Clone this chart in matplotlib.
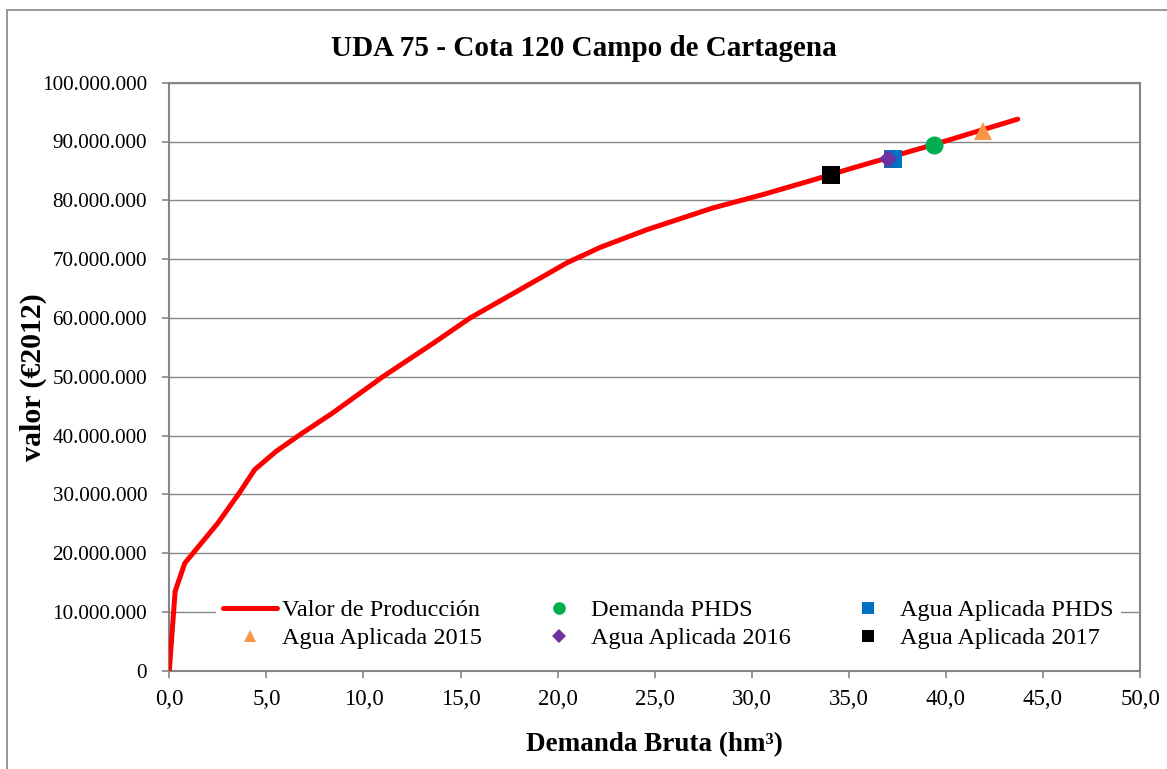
"""
Curva de valor de producción - UDA 75 Cota 120 Campo de Cartagena
"""

import matplotlib
matplotlib.use("Agg")
import matplotlib.pyplot as plt
import matplotlib.ticker as mtick
from matplotlib.patches import Rectangle

# ─── Datos ────────────────────────────────────────────────────────────────────

# Curva valor de producción (hm³, €2012)
demanda_hm3 = [0.0, 0.3, 0.8, 1.3, 2.5, 3.6, 4.4, 5.5, 6.8, 8.4, 11.0, 13.6,
               15.5, 17.9, 20.5, 22.2, 24.6, 28.0, 30.6, 33.2, 35.1, 39.4, 43.7]
valor_eur = [0, 13.5e6, 18.3e6, 20.3e6, 25.1e6, 30.2e6, 34.2e6, 37.3e6, 40.3e6,
             43.8e6, 50.0e6, 55.7e6, 60.0e6, 64.5e6, 69.4e6, 72.0e6, 75.0e6,
             78.7e6, 81.0e6, 83.5e6, 85.4e6, 89.5e6, 93.8e6]

# Puntos singulares
puntos_nombres = ["Demanda PHDS", "Agua Aplicada PHDS", "Agua Aplicada 2015",
                  "Agua Aplicada 2016", "Agua Aplicada 2017"]
puntos_x = [39.4, 37.3, 41.9, 37.0, 34.1]
puntos_y = [89.4e6, 87.1e6, 91.8e6, 87.0e6, 84.3e6]

titulo = "UDA 75 - Cota 120 Campo de Cartagena"
x_ticks = [0, 5, 10, 15, 20, 25, 30, 35, 40, 45, 50]
y_ticks = [0, 10e6, 20e6, 30e6, 40e6, 50e6, 60e6, 70e6, 80e6, 90e6, 100e6]

# ─── Estilo ───────────────────────────────────────────────────────────────────

plt.rcParams["font.family"] = ["Liberation Serif", "DejaVu Serif"]
GRIS = "#868686"

estilos = {
    "Demanda PHDS":       dict(marker="o", color="#00B050", ms=13),
    "Agua Aplicada PHDS": dict(marker="s", color="#0070C0", ms=13),
    "Agua Aplicada 2015": dict(marker="^", color="#F79646", ms=13),
    "Agua Aplicada 2016": dict(marker="D", color="#7030A0", ms=9.5),
    "Agua Aplicada 2017": dict(marker="s", color="#000000", ms=13),
}

W, H = 1167, 769
fig = plt.figure(figsize=(W / 100, H / 100), dpi=100)
ax = fig.add_axes([169.3 / W, 1 - 670.7 / H, (1140 - 169.3) / W, (670.7 - 82.7) / H])

# Borde exterior del gráfico (solo visible arriba e izquierda)
fig.patches.append(Rectangle((7 / W, -0.05), 1.2, 1 - 10 / H + 0.05,
                             transform=fig.transFigure, fill=False,
                             edgecolor=GRIS, lw=1.2))

linea, = ax.plot(demanda_hm3, valor_eur, color="#FF0000", lw=3.6,
                 solid_joinstyle="round", solid_capstyle="round", zorder=3)

handles = {}
for nombre, x, y in zip(puntos_nombres, puntos_x, puntos_y):
    st = estilos[nombre]
    h, = ax.plot([x], [y], linestyle="none", marker=st["marker"],
                 color=st["color"], markersize=st["ms"], markeredgewidth=0,
                 zorder=4)
    handles[nombre] = h

# ─── Ejes ─────────────────────────────────────────────────────────────────────

ax.set_xlim(0, 50)
ax.set_ylim(0, 100e6)
ax.set_xticks(x_ticks)
ax.set_yticks(y_ticks)
ax.xaxis.set_major_formatter(mtick.FuncFormatter(lambda v, _: f"{v:.1f}".replace(".", ",")))
ax.yaxis.set_major_formatter(mtick.FuncFormatter(lambda v, _: f"{int(round(v)):,}".replace(",", ".")))
ax.tick_params(axis="y", labelsize=15.2, length=5, width=1.2, color=GRIS, pad=11)
ax.tick_params(axis="x", labelsize=16.5, length=5, width=1.2, color=GRIS, pad=8)

ax.grid(axis="y", color=GRIS, lw=1.0)
ax.set_axisbelow(True)
for s in ax.spines.values():
    s.set_color(GRIS)
    s.set_linewidth(1.5)

ax.set_xlabel("Demanda Bruta (hm³)", fontsize=19.5, fontweight="bold", va="center")
ax.xaxis.set_label_coords(0.5, -(745 - 670.7) / 588)
ax.set_ylabel("valor (€2012)", fontsize=21.5, fontweight="bold", va="center")
ax.yaxis.set_label_coords((33 - 169.3) / 970.7, 0.5)
fig.text(0.5, 1 - 49 / H, titulo, ha="center", va="center",
         fontsize=21, fontweight="bold")

# Leyenda: orden por filas como en Excel (matplotlib rellena por columnas)
orden = [(linea, "Valor de Producción"),
         (handles["Agua Aplicada 2015"], "Agua Aplicada 2015"),
         (handles["Demanda PHDS"], "Demanda PHDS"),
         (handles["Agua Aplicada 2016"], "Agua Aplicada 2016"),
         (handles["Agua Aplicada PHDS"], "Agua Aplicada PHDS"),
         (handles["Agua Aplicada 2017"], "Agua Aplicada 2017")]
leg = ax.legend([h for h, _ in orden], [t for _, t in orden], ncol=3,
                loc="center", bbox_to_anchor=(0.514, 0.079),
                fontsize=17.5, markerscale=0.7, handlelength=2.22,
                handletextpad=0.2, columnspacing=2.06, labelspacing=0.25,
                borderpad=0.3, frameon=True, fancybox=False,
                facecolor="white", edgecolor="none", framealpha=1)
leg.set_zorder(5)

fig.savefig("out.png", dpi=100)
